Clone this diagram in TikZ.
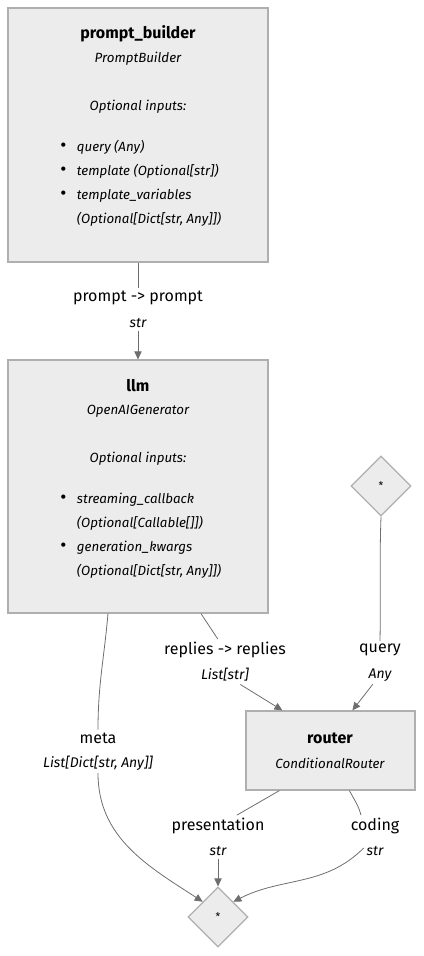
\documentclass[tikz,border=0pt]{standalone}
\usepackage{fontspec}
\setmainfont{Fira Sans}
\usetikzlibrary{shapes.geometric, arrows.meta, positioning, calc, fit}
\definecolor{boxfill}{RGB}{236,236,236}
\definecolor{boxline}{RGB}{175,175,175}
\definecolor{edgegray}{RGB}{110,110,110}
\newcommand{\inbullet}{{\fontsize{14}{18}\selectfont\upshape\textbullet}}

\begin{document}
\begin{tikzpicture}[x=0.75pt, y=-0.75pt,
  compbox/.style={draw=boxline, fill=boxfill, line width=0.9pt, inner sep=0pt},
  joinpt/.style={diamond, draw=boxline, fill=boxfill, line width=0.9pt, minimum width=45pt, minimum height=45pt, inner sep=0pt, font=\fontsize{8}{9}\selectfont},
  cname/.style={font=\fontsize{12}{14}\selectfont\bfseries},
  ctype/.style={font=\fontsize{10}{12}\selectfont\itshape},
  inlist/.style={anchor=base west, inner sep=0pt, font=\fontsize{10}{18}\selectfont\itshape},
  elabel/.style={font=\fontsize{12}{14}\selectfont, inner sep=2pt},
  etype/.style={font=\fontsize{10.5}{12}\selectfont\itshape, inner sep=2pt},
  edge/.style={draw=edgegray, line width=0.6pt},
  arr/.style={edge, -{Triangle[length=6pt, width=5.5pt]}}
]
\useasboundingbox (0,0) rectangle (424,956);

% components
\node[compbox, fit={(8,8) (268,262)}] (pb) {};
\node[cname] (pbname) at (138,34) {prompt\_builder};
\node[ctype] (pbtype) at (138,59) {PromptBuilder};
\node[ctype] (pbopt) at (138,107) {Optional inputs:};
\node[inlist] (pblist) at (60,151) {%
  \begin{tabular}[t]{@{}l@{\hspace{8pt}}l@{}}
    \inbullet & query (Any)\\
    \inbullet & template (Optional[str])\\
    \inbullet & template\_variables\\
              & (Optional[Dict[str, Any]])
  \end{tabular}};

\node[compbox, fit={(8,360) (268,613)}] (llm) {};
\node[cname] (llmname) at (138,386) {llm};
\node[ctype] (llmtype) at (138,411) {OpenAIGenerator};
\node[ctype] (llmopt) at (138,459) {Optional inputs:};
\node[inlist] (llmlist) at (60,503) {%
  \begin{tabular}[t]{@{}l@{\hspace{8pt}}l@{}}
    \inbullet & streaming\_callback\\
              & (Optional[Callable[]])\\
    \inbullet & generation\_kwargs\\
              & (Optional[Dict[str, Any]])
  \end{tabular}};

\node[compbox, fit={(246,711) (415,790)}] (router) {};
\node[cname] (routername) at (330,738) {router};
\node[ctype] (routertype) at (330,763) {ConditionalRouter};

\node[joinpt] (topjoin) at (381,486) {*};
\node[joinpt] (botjoin) at (218,917) {*};

% edge labels
\node[elabel] (pp) at (138,298) {prompt -> prompt};
\node[etype] (pptype) at (138,323) {str};
\node[elabel] (rep) at (225,650) {replies -> replies};
\node[etype] (reptype) at (225,675) {List[str]};
\node[elabel] (qry) at (380,650) {query};
\node[etype] (qrytype) at (380,675) {Any};
\node[elabel] (meta) at (98,738) {meta};
\node[etype] (metatype) at (98,763) {List[Dict[str, Any]]};
\node[elabel] (pres) at (218,826) {presentation};
\node[etype] (prestype) at (218,851) {str};
\node[elabel] (cod) at (375,826) {coding};
\node[etype] (codtype) at (375,851) {str};

% connectors
\draw[edge] (pb.south) -- (pp.north);
\draw[arr] (pptype.south) -- (llm.north);

\draw[edge] ($(llm.south)+(63,0)$) -- (rep);
\draw[arr] (reptype) -- ($(router.north west)+(37,0)$);

\draw[edge] (topjoin.south) to[out=-92, in=89] (qry.north);
\draw[arr] (qrytype) -- ($(router.north west)+(107,0)$);

\draw[edge] ($(llm.south)+(-30,0)$) to[out=-95, in=90] (meta.north);
\draw[arr] (metatype.south) to[out=-90, in=147] (botjoin.north west);

\draw[edge] ($(router.south west)+(34,0)$) -- (pres);
\draw[arr] (prestype.south) -- (botjoin.north);

\draw[edge] ($(router.south west)+(104,0)$) to[out=-62, in=105] ($(cod.north)+(-14,0)$);
\draw[arr] ($(codtype.west)+(0,-3)$) to[out=225, in=27] (botjoin.north east);
\end{tikzpicture}
\end{document}
